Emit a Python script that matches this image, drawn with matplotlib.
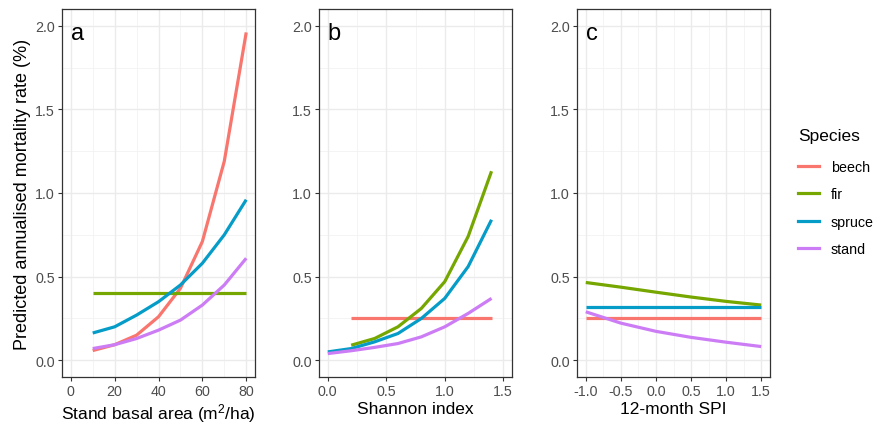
import matplotlib
matplotlib.use("Agg")
import matplotlib.pyplot as plt
from matplotlib.lines import Line2D

plt.rcParams["font.family"] = ["Liberation Sans", "DejaVu Sans"]
plt.rcParams["mathtext.fontset"] = "custom"
plt.rcParams["mathtext.rm"] = "Liberation Sans"

species = ["beech", "fir", "spruce", "stand"]
colors = {"beech": "#F8766D", "fir": "#76A600", "spruce": "#059CC8", "stand": "#CC7CF4"}

# panel a: stand basal area
ba_x = [10, 20, 30, 40, 50, 60, 70, 80]
ba_beech = [0.058, 0.093, 0.15, 0.26, 0.43, 0.71, 1.19, 1.96]
ba_fir = [0.40, 0.40, 0.40, 0.40, 0.40, 0.40, 0.40, 0.40]
ba_spruce = [0.163, 0.20, 0.27, 0.35, 0.45, 0.58, 0.75, 0.96]
ba_stand = [0.07, 0.093, 0.13, 0.18, 0.24, 0.33, 0.45, 0.61]

# panel b: Shannon index
sh_x = [0.0, 0.2, 0.4, 0.6, 0.8, 1.0, 1.2, 1.4]
sh_x_sp = [0.2, 0.4, 0.6, 0.8, 1.0, 1.2, 1.4]
sh_beech = [0.25, 0.25, 0.25, 0.25, 0.25, 0.25, 0.25]
sh_fir = [0.09, 0.13, 0.20, 0.31, 0.47, 0.74, 1.13]
sh_spruce = [0.05, 0.07, 0.11, 0.16, 0.25, 0.37, 0.56, 0.84]
sh_stand = [0.04, 0.057, 0.077, 0.10, 0.14, 0.20, 0.28, 0.37]

# panel c: 12-month SPI
spi_x = [-1.0, -0.5, 0.0, 0.5, 1.0, 1.5]
spi_beech = [0.25, 0.25, 0.25, 0.25, 0.25, 0.25]
spi_fir = [0.465, 0.437, 0.407, 0.378, 0.352, 0.33]
spi_spruce = [0.32, 0.32, 0.32, 0.32, 0.32, 0.32]
spi_stand = [0.29, 0.222, 0.173, 0.137, 0.108, 0.082]

panels = [
    ("a", "Stand basal area (m$\\mathregular{^2}$/ha)", (-4, 84), [0, 20, 40, 60, 80],
     [10, 30, 50, 70],
     [(ba_x, ba_beech, "beech"), (ba_x, ba_fir, "fir"),
      (ba_x, ba_spruce, "spruce"), (ba_x, ba_stand, "stand")], 0),
    ("b", "Shannon index", (-0.075, 1.575), [0, 0.5, 1.0, 1.5], [0.25, 0.75, 1.25],
     [(sh_x_sp, sh_beech, "beech"), (sh_x_sp, sh_fir, "fir"),
      (sh_x, sh_spruce, "spruce"), (sh_x, sh_stand, "stand")], 0),
    ("c", "12-month SPI", (-1.125, 1.625), [-1.0, -0.5, 0.0, 0.5, 1.0, 1.5],
     [-0.75, -0.25, 0.25, 0.75, 1.25],
     [(spi_x, spi_beech, "beech"), (spi_x, spi_fir, "fir"),
      (spi_x, spi_spruce, "spruce"), (spi_x, spi_stand, "stand")], -1.0),
]

fig = plt.figure(figsize=(8.74, 4.27), dpi=100)
lefts = [62 / 874, 319 / 874, 577 / 874]
bottom = 49 / 427
height = 368 / 427
width = 193 / 874

for left, (letter, xlabel, xlim, xt, xminor, lines, x0) in zip(lefts, panels):
    ax = fig.add_axes([left, bottom, width, height])
    ax.set_facecolor("white")
    for y in [0.25, 0.75, 1.25, 1.75]:
        ax.axhline(y, color="#F2F2F2", lw=0.6, zorder=0)
    for x in xminor:
        ax.axvline(x, color="#F2F2F2", lw=0.6, zorder=0)
    for y in [0, 0.5, 1.0, 1.5, 2.0]:
        ax.axhline(y, color="#EBEBEB", lw=1.0, zorder=0)
    for x in xt:
        ax.axvline(x, color="#EBEBEB", lw=1.0, zorder=0)
    for xs, ys, name in lines:
        ax.plot(xs, ys, color=colors[name], lw=2.3, solid_capstyle="butt", zorder=2)
    ax.set_xlim(*xlim)
    ax.set_ylim(-0.1, 2.1)
    ax.set_xticks(xt)
    ax.set_xticklabels([f"{v:g}" if letter == "a" else f"{v:.1f}" for v in xt])
    ax.set_yticks([0, 0.5, 1.0, 1.5, 2.0])
    ax.set_yticklabels(["0.0", "0.5", "1.0", "1.5", "2.0"])
    ax.tick_params(colors="#333333", labelcolor="#4D4D4D", labelsize=10.3,
                   length=3, width=0.8, pad=2)
    for s in ax.spines.values():
        s.set_color("#333333")
        s.set_linewidth(0.9)
    ax.set_xlabel(xlabel, fontsize=12.5, labelpad=2)
    ax.text(x0, 1.922, letter, fontsize=17, ha="left", va="baseline")
    if letter == "a":
        ax.set_ylabel("Predicted annualised mortality rate (%)", fontsize=13, labelpad=3)

handles = [Line2D([], [], color=colors[s], lw=2.3) for s in species]
leg = fig.legend(handles, species, title="Species", loc="upper left",
                 bbox_to_anchor=(785 / 874, 1 - 116 / 427), frameon=False,
                 fontsize=10.3, title_fontsize=12.5, handlelength=1.5,
                 handletextpad=0.8, labelspacing=0.95, alignment="left")
leg._legend_box.sep = 12

fig.savefig("out.png", dpi=100)
